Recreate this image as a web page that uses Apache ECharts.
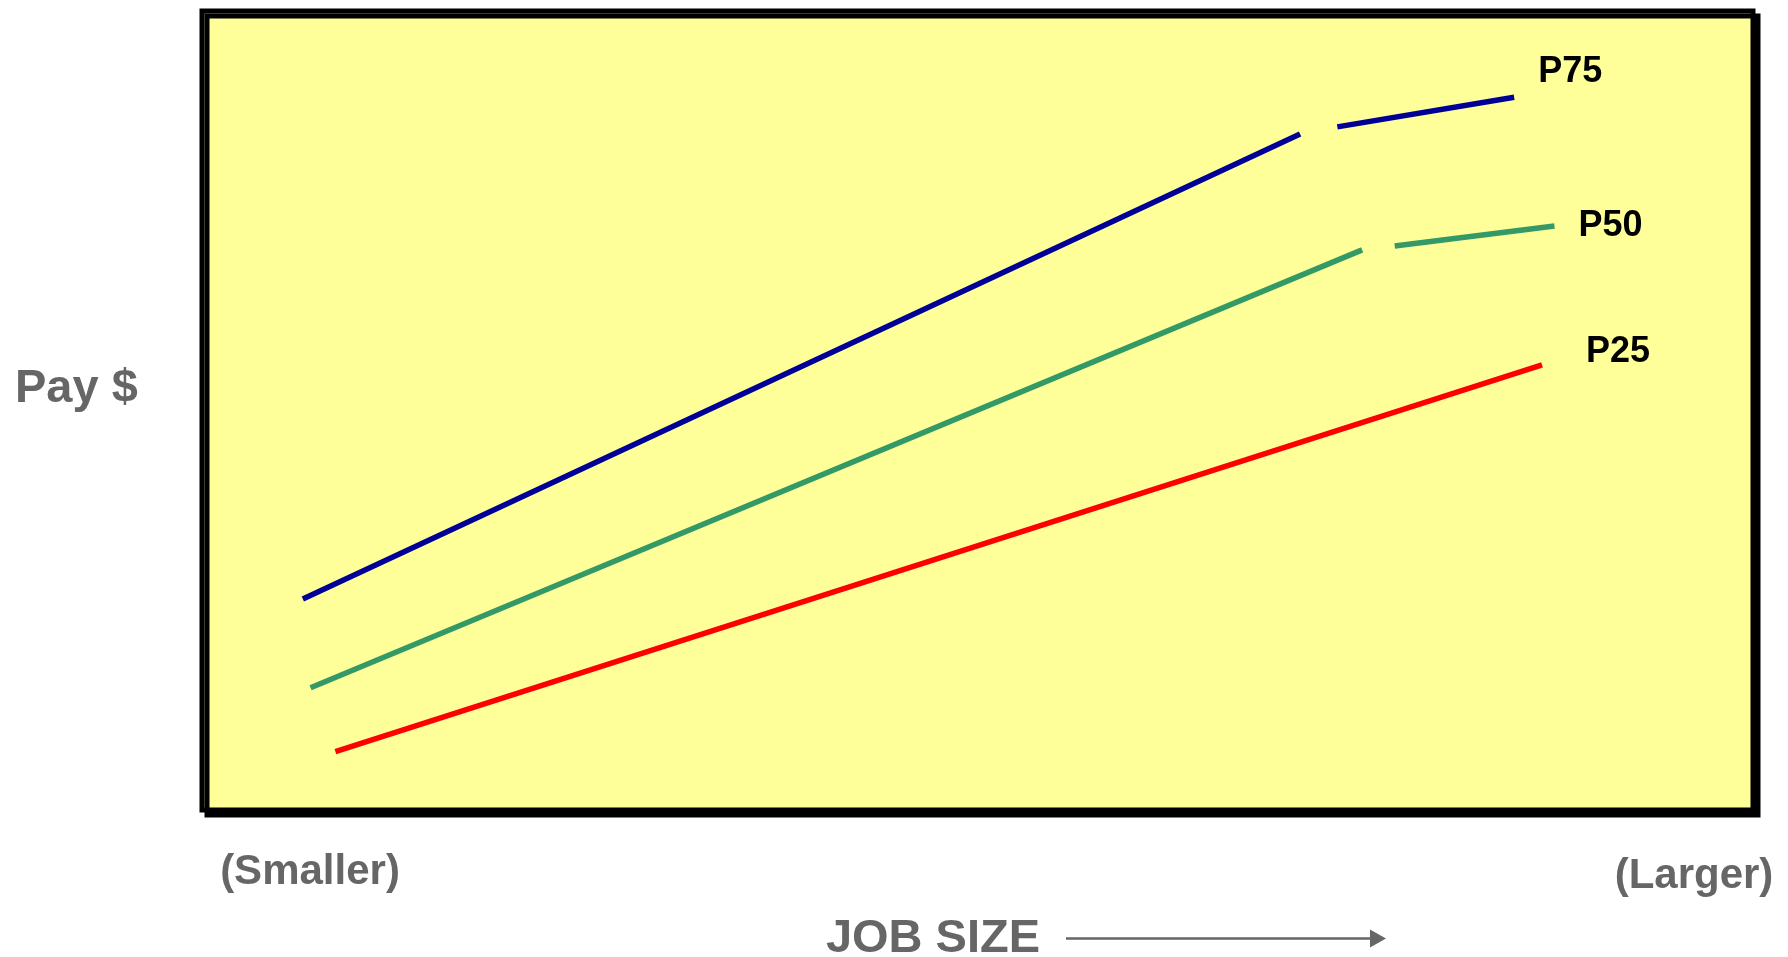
<!DOCTYPE html>
<html>
<head>
<meta charset="utf-8">
<title>Pay vs Job Size</title>
<script src="https://cdn.jsdelivr.net/npm/echarts@6/dist/echarts.min.js"></script>
<style>
  html, body { margin: 0; padding: 0; background: #fff; }
  #main { width: 1788px; height: 957px; }
</style>
</head>
<body>
<div id="main"></div>
<script>
  // job size (x) and pay (y) on a 0-100 scale, null = break in the line
  const seriesNames = ['P75', 'P50', 'P25'];
  const jobSize75 = [6.5, 70.8, null, 73.2, 84.6];
  const pay75     = [26.4, 84.6, null, 85.5, 89.2];
  const jobSize50 = [7.0, 74.8, null, 76.9, 87.2];
  const pay50     = [15.3, 70.1, null, 70.6, 73.1];
  const jobSize25 = [8.6, 86.4];
  const pay25     = [7.3, 55.7];
  const axisTexts = ['Pay $', '(Smaller)', '(Larger)', 'JOB SIZE'];

  const font = '"Liberation Sans", Arial, sans-serif';

  function toPoints(xs, ys) {
    let out = [];
    for (let i = 0; i < xs.length; i++) {
      out.push(xs[i] === null ? [null, '-'] : [xs[i], ys[i]]);
    }
    return out;
  }

  function lineSeries(name, xs, ys, color, offset) {
    return {
      name: name,
      type: 'line',
      data: toPoints(xs, ys),
      connectNulls: false,
      showSymbol: false,
      symbol: 'none',
      silent: true,
      lineStyle: { color: color, width: 5.5, cap: 'butt' },
      endLabel: {
        show: true,
        formatter: name,
        distance: 0,
        offset: offset,
        align: 'left',
        verticalAlign: 'middle',
        color: '#000',
        fontFamily: font,
        fontWeight: 'bold',
        fontSize: 36
      }
    };
  }

  const chart = echarts.init(document.getElementById('main'));
  chart.setOption({
    animation: false,
    backgroundColor: '#fff',
    grid: {
      show: true,
      left: 202,
      top: 11,
      width: 1551,
      height: 799,
      backgroundColor: '#FFFF99',
      borderColor: '#000',
      borderWidth: 5,
      shadowColor: '#000',
      shadowBlur: 0,
      shadowOffsetX: 5,
      shadowOffsetY: 5
    },
    xAxis: { type: 'value', min: 0, max: 100, show: false },
    yAxis: { type: 'value', min: 0, max: 100, show: false },
    series: [
      lineSeries(seriesNames[0], jobSize75, pay75, '#000099', [24, -25]),
      lineSeries(seriesNames[1], jobSize50, pay50, '#339966', [24, 0]),
      lineSeries(seriesNames[2], jobSize25, pay25, '#FF0000', [44, -13])
    ],
    graphic: [
      {
        type: 'text', left: 15, top: 366,
        style: { text: axisTexts[0], fill: '#666666', font: 'bold 47px ' + font }
      },
      {
        type: 'text', x: 310, y: 872,
        style: { text: axisTexts[1], fill: '#666666', font: 'bold 42px ' + font, textAlign: 'center', textVerticalAlign: 'middle' }
      },
      {
        type: 'text', x: 1694, y: 876,
        style: { text: axisTexts[2], fill: '#666666', font: 'bold 42px ' + font, textAlign: 'center', textVerticalAlign: 'middle' }
      },
      {
        type: 'text', x: 933, y: 939,
        style: { text: axisTexts[3], fill: '#666666', font: 'bold 47px ' + font, textAlign: 'center', textVerticalAlign: 'middle' }
      },
      {
        type: 'line',
        shape: { x1: 1066, y1: 938.5, x2: 1372, y2: 938.5 },
        style: { stroke: '#666666', lineWidth: 2.5 }
      },
      {
        type: 'polygon',
        shape: { points: [[1370, 929.5], [1386, 938.5], [1370, 947.5]] },
        style: { fill: '#666666' }
      }
    ]
  });
</script>
</body>
</html>
